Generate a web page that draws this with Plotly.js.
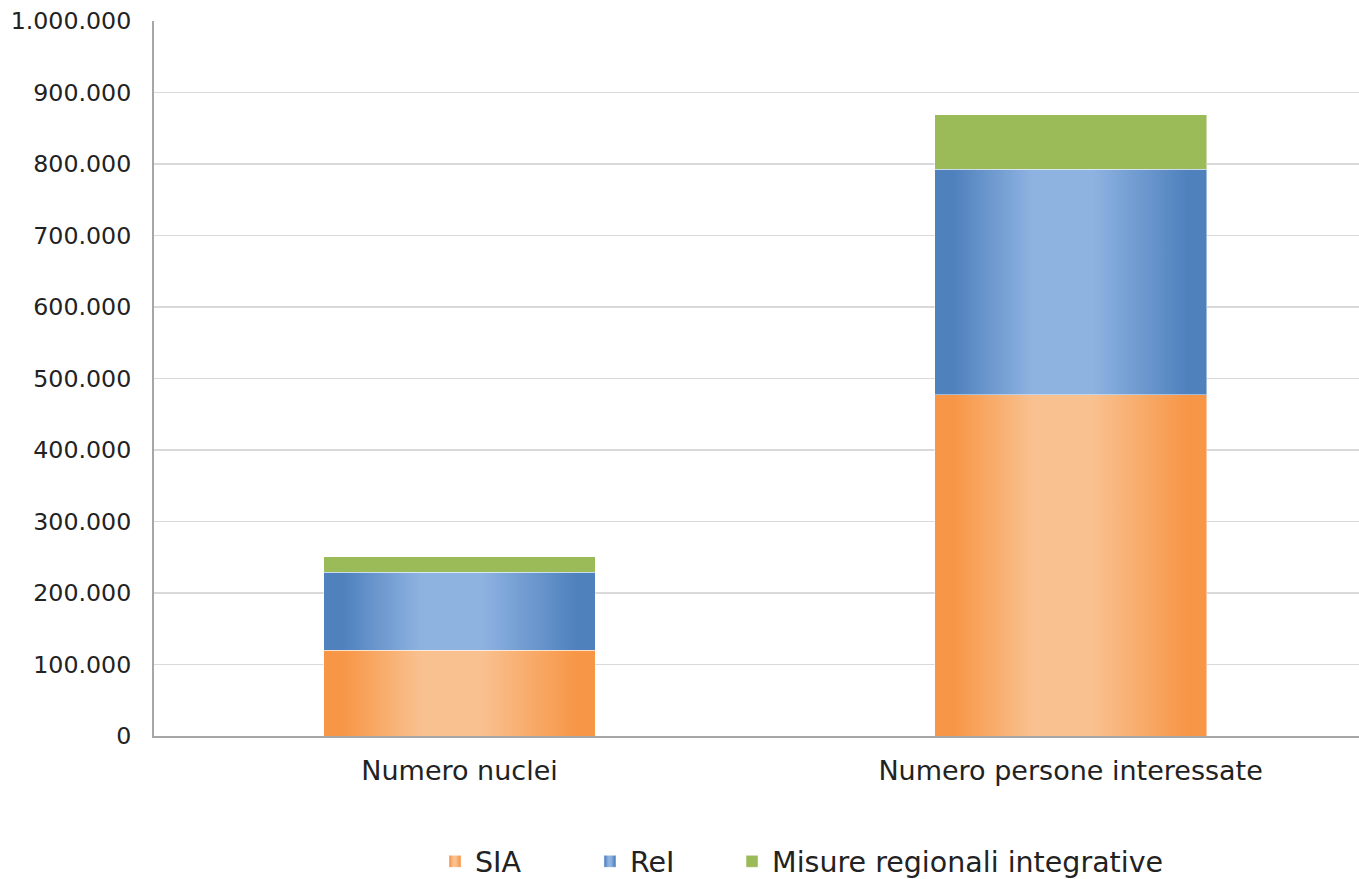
<!DOCTYPE html>
<html>
<head>
<meta charset="utf-8">
<script src="https://cdn.plot.ly/plotly-3.0.1.min.js"></script>
<style>
html,body{margin:0;padding:0;background:#fff;}
#chart{width:1359px;height:879px;}
</style>
</head>
<body>
<div id="chart"></div>
<script>
const categories = ["Numero nuclei", "Numero persone interessate"];
const seriesNames = ["SIA", "ReI", "Misure regionali integrative"];
const siaValues = [120000, 477000];
const reiValues = [109000, 316000];
const misureValues = [21500, 76000];
const yTickValues = [0, 100000, 200000, 300000, 400000, 500000, 600000, 700000, 800000, 900000, 1000000];

const baseColors = ["#F79646", "#4F81BD", "#9BBB59"];
const gradients = [
  {id: "gradSIA", edge: "#F79646", mid: "#F9C190"},
  {id: "gradReI", edge: "#4F81BD", mid: "#8EB3E1"},
  null
];

const font = "DejaVu Sans, Verdana, sans-serif";
const legendIds = ["legend", "legend2", "legend3"];
const legendX = [0.2332, 0.3618, 0.4797];

const seriesValues = [siaValues, reiValues, misureValues];
const traces = seriesValues.map((vals, i) => ({
  type: "bar",
  name: seriesNames[i],
  x: categories,
  y: vals,
  width: 0.445,
  legend: legendIds[i],
  marker: {color: baseColors[i], line: {color: "rgba(255,255,255,0.45)", width: 1}},
  hoverinfo: "skip"
}));

function legendSpec(x) {
  return {
    orientation: "h", x: x, xanchor: "left", y: -0.176, yanchor: "middle",
    font: {family: font, size: 28.5, color: "#222"},
    bgcolor: "rgba(0,0,0,0)", itemwidth: 30
  };
}

const layout = {
  width: 1359, height: 879,
  barmode: "stack",
  separators: ",.",
  paper_bgcolor: "#fff", plot_bgcolor: "#fff",
  margin: {l: 154, r: 0, t: 21, b: 143, autoexpand: false},
  showlegend: true,
  legend: legendSpec(legendX[0]),
  legend2: legendSpec(legendX[1]),
  legend3: legendSpec(legendX[2]),
  xaxis: {
    range: [-0.5, 1.472], fixedrange: true,
    showgrid: false, showline: true, linecolor: "#A6A6A6", linewidth: 2,
    ticks: "", ticklabelstandoff: 10,
    tickfont: {family: font, size: 27, color: "#222"}
  },
  yaxis: {
    range: [0, 1000000], tickvals: yTickValues, tickformat: ",d",
    showgrid: true, gridcolor: "#D9D9D9", gridwidth: 1.5,
    showline: true, linecolor: "#A6A6A6", linewidth: 2,
    zeroline: false, ticks: "", ticklabelstandoff: 16,
    tickfont: {family: font, size: 23.7, color: "#222"}
  }
};

function ensureDefs(gd) {
  const svg = gd.querySelector("svg.main-svg");
  if (!svg) return false;
  let defs = svg.querySelector("defs");
  if (!defs) {
    defs = document.createElementNS("http://www.w3.org/2000/svg", "defs");
    svg.insertBefore(defs, svg.firstChild);
  }
  gradients.forEach(g => {
    if (!g || document.getElementById(g.id)) return;
    const lg = document.createElementNS("http://www.w3.org/2000/svg", "linearGradient");
    lg.setAttribute("id", g.id);
    lg.setAttribute("x1", "0"); lg.setAttribute("y1", "0");
    lg.setAttribute("x2", "1"); lg.setAttribute("y2", "0");
    [[0, g.edge], [0.07, g.edge], [0.36, g.mid], [0.58, g.mid], [0.93, g.edge], [1, g.edge]].forEach(s => {
      const st = document.createElementNS("http://www.w3.org/2000/svg", "stop");
      st.setAttribute("offset", s[0]);
      st.setAttribute("stop-color", s[1]);
      lg.appendChild(st);
    });
    defs.appendChild(lg);
  });
  return true;
}

function setFill(p, id) {
  const v = "url(#" + id + ")";
  if (p.style.fill.indexOf(id) < 0) p.style.fill = v;
}

function applyGradients(gd) {
  if (!ensureDefs(gd)) return;
  gd.querySelectorAll(".barlayer .trace").forEach((t, i) => {
    const g = gradients[i];
    if (!g) return;
    t.querySelectorAll("path").forEach(p => setFill(p, g.id));
  });
  gd.querySelectorAll("g.traces").forEach(t => {
    const d = t.__data__;
    let name = d && d[0] && d[0].trace ? d[0].trace.name : null;
    if (!name) {
      const txt = t.querySelector(".legendtext");
      name = txt ? txt.textContent.trim() : "";
    }
    const g = gradients[seriesNames.indexOf(name)];
    if (!g) return;
    t.querySelectorAll(".legendpoints path").forEach(p => setFill(p, g.id));
  });
}

const gd = document.getElementById("chart");
const observer = new MutationObserver(() => applyGradients(gd));
observer.observe(gd, {childList: true, subtree: true, attributes: true, attributeFilter: ["style", "d"]});
Plotly.newPlot(gd, traces, layout, {displayModeBar: false, staticPlot: true}).then(() => {
  applyGradients(gd);
  [0, 50, 200, 500].forEach(ms => setTimeout(() => applyGradients(gd), ms));
});
</script>
</body>
</html>
